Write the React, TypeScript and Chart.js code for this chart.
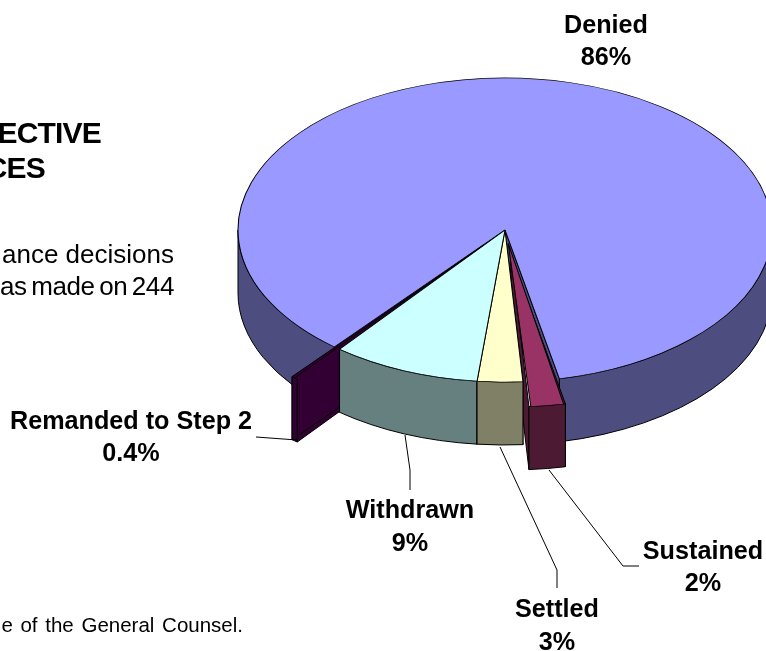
import React, { useEffect, useRef } from "react";
import { Chart, registerables } from "chart.js";

Chart.register(...registerables);

const categories = ["Denied", "Sustained", "Settled", "Withdrawn", "Remanded to Step 2"];
const percents = [86, 2.2, 2.75, 9, 0.4];
const percentLabels = ["86%", "2%", "3%", "9%", "0.4%"];
const topColors = ["#9999FF", "#993366", "#FFFFCC", "#CCFFFF", "#660066"];
const wallColors = ["#4D4D80", "#4D1A33", "#808066", "#668080", "#330033"];
const explode = [0, 92, 0, 0, 132];

// layout of the tilted pie on the page
const CX = 505, CY = 230, RX = 267, RY = 152, DEPTH = 63;
const FONT = 'bold 25.2px "Liberation Sans", Arial, sans-serif';
const labelPos: [number, number, number][] = [
  [606, 25, 57], [703, 551, 583], [557, 609, 642], [410, 510, 543], [131, 421, 453],
];
const leaders: [number, number][][] = [
  [],
  [[549, 470], [623, 566], [639, 566]],
  [[500, 447], [557, 570], [557, 588]],
  [[405, 435], [410, 470], [410, 490]],
  [[256, 437], [297, 440]],
];
const wallOrder = [0, 4, 1, 3, 2];

const pie3d = {
  id: "pie3d",
  beforeDatasetsDraw(chart: any) {
    const ctx = chart.ctx;
    const arcs = chart.getDatasetMeta(0).data;
    const R = arcs[0].outerRadius;
    const sx = RX / R, sy = RY / R;
    for (const i of wallOrder) {
      const a = arcs[i];
      const base = (a.options.offset || 0) / 4;
      const fix = 1 - Math.sin(Math.min(Math.PI, a.circumference));
      const mid = (a.startAngle + a.endAngle) / 2;
      const e = base * (1 + fix);
      const px = CX + Math.cos(mid) * e * sx;
      const py = CY + Math.sin(mid) * e * sy;
      ctx.save();
      ctx.fillStyle = wallColors[i];
      ctx.strokeStyle = "#000";
      ctx.lineWidth = 1;
      ctx.lineJoin = "round";
      for (const ang of [a.startAngle, a.endAngle]) {
        const ex = px + Math.cos(ang) * RX;
        const ey = py + Math.sin(ang) * RY;
        ctx.beginPath();
        ctx.moveTo(px, py);
        ctx.lineTo(ex, ey);
        ctx.lineTo(ex, ey + DEPTH);
        ctx.lineTo(px, py + DEPTH);
        ctx.closePath();
        ctx.fill();
        ctx.stroke();
      }
      const tau = Math.PI * 2;
      for (let k = -1; k < 3; k++) {
        const s = Math.max(a.startAngle, k * tau);
        const t = Math.min(a.endAngle, k * tau + Math.PI);
        if (t <= s) continue;
        ctx.beginPath();
        ctx.ellipse(px, py, RX, RY, 0, s, t);
        ctx.ellipse(px, py + DEPTH, RX, RY, 0, t, s, true);
        ctx.closePath();
        ctx.fill();
        ctx.stroke();
      }
      ctx.restore();
    }
    ctx.save();
    ctx.translate(CX, CY);
    ctx.scale(sx, sy);
    ctx.translate(-arcs[0].x, -arcs[0].y);
  },
  afterDatasetsDraw(chart: any) {
    chart.ctx.restore();
  },
  afterDraw(chart: any) {
    const ctx = chart.ctx;
    ctx.save();
    ctx.strokeStyle = "#000";
    ctx.lineWidth = 1;
    for (const pts of leaders) {
      if (!pts.length) continue;
      ctx.beginPath();
      pts.forEach(([x, y], j) => (j ? ctx.lineTo(x, y) : ctx.moveTo(x, y)));
      ctx.stroke();
    }
    ctx.fillStyle = "#000";
    ctx.font = FONT;
    ctx.textAlign = "center";
    ctx.textBaseline = "middle";
    categories.forEach((c, i) => {
      const [x, y1, y2] = labelPos[i];
      ctx.fillText(c, x, y1 + 1);
      ctx.fillText(percentLabels[i], x, y2 + 1);
    });
    ctx.restore();
  },
};

const textBase: React.CSSProperties = {
  position: "absolute",
  whiteSpace: "nowrap",
  color: "#000",
  fontFamily: '"Liberation Sans", Arial, sans-serif',
};

function Line({ right, top, size, bold, text, word, letter }: any) {
  return (
    <div
      style={{
        ...textBase,
        right: 766 - right,
        top,
        fontSize: size,
        lineHeight: size + "px",
        fontWeight: bold ? 700 : 400,
        wordSpacing: word || 0,
        letterSpacing: letter || 0,
      }}
    >
      {text}
    </div>
  );
}

export default function App() {
  const ref = useRef<HTMLCanvasElement>(null);
  useEffect(() => {
    const chart = new Chart(ref.current as HTMLCanvasElement, {
      type: "pie",
      data: {
        labels: categories,
        datasets: [
          {
            data: percents,
            backgroundColor: topColors,
            borderColor: "#000",
            borderWidth: 1,
            offset: explode,
            clip: false,
          } as any,
        ],
      },
      options: {
        animation: false,
        responsive: false,
        rotation: 219.73,
        events: [],
        layout: { padding: 0 },
        plugins: { legend: { display: false }, tooltip: { enabled: false } },
      },
      plugins: [pie3d],
    });
    return () => chart.destroy();
  }, []);
  return (
    <div style={{ position: "fixed", left: 0, top: 0, width: 766, height: 651, overflow: "hidden", background: "#fff" }}>
      <canvas ref={ref} width={766} height={651} style={{ position: "absolute", left: 0, top: 0, display: "block" }} />
      <Line right={101} top={118} size={30} bold text="ECTIVE" letter={-0.8} />
      <Line right={45} top={153} size={30} bold text="CES" letter={-0.8} />
      <Line right={174} top={241} size={26} text="ance decisions" />
      <Line right={174} top={273} size={26} text="as made on 244" letter={-0.4} word={-2.3} />
      <Line right={243} top={615} size={20.5} text="e of the General Counsel." word={2} />
    </div>
  );
}
